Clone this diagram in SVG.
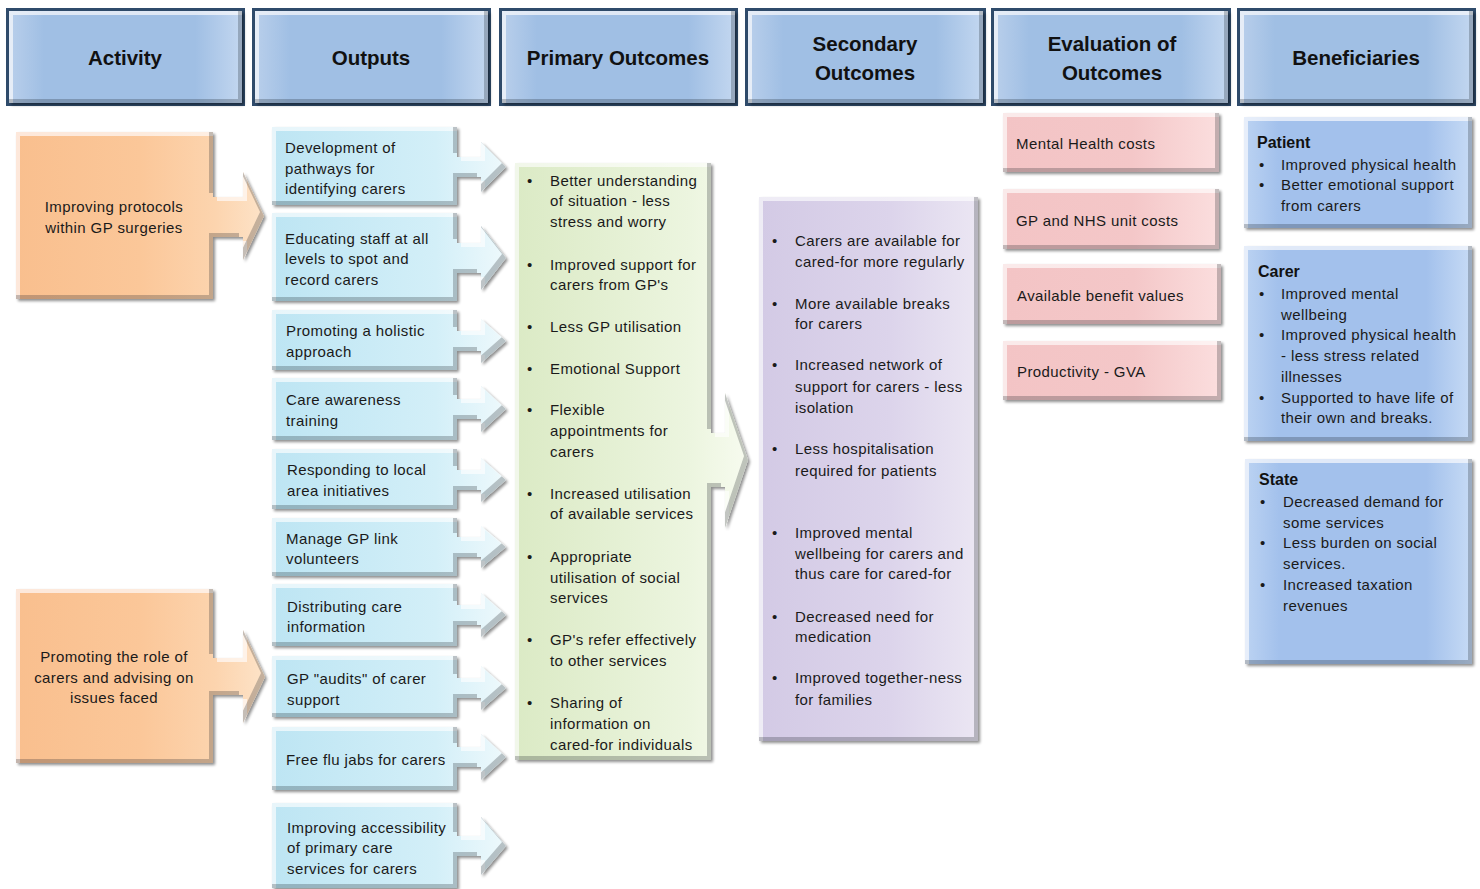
<svg xmlns="http://www.w3.org/2000/svg" width="1480" height="889" viewBox="0 0 1480 889">
<style>
.t{font-family:"Liberation Sans",Arial,sans-serif;font-size:15px;letter-spacing:0.4px;fill:#1a1a1a}
.h{font-family:"Liberation Sans",Arial,sans-serif;font-weight:bold;font-size:20.5px;fill:#111;text-anchor:middle}
.bt{font-family:"Liberation Sans",Arial,sans-serif;font-weight:bold;font-size:16px;fill:#111}
.c{text-anchor:middle}
.hb{fill:#2f4b6b}
.hf{fill:url(#gHead);filter:url(#bev)}
.act{fill:url(#gAct);filter:url(#bev)}
.out{fill:url(#gOut);filter:url(#bev)}
.pri{fill:url(#gPri);filter:url(#bev)}
.sec{fill:url(#gSec);filter:url(#bev)}
.eva{fill:url(#gEva);filter:url(#bev)}
.ben{fill:url(#gBen);filter:url(#bev)}
</style>
<defs>
<filter id="bev" x="-5%" y="-5%" width="112%" height="112%">
<feOffset in="SourceAlpha" dx="-4" dy="-4" result="o1"/>
<feComposite in="SourceAlpha" in2="o1" operator="out" result="br"/>
<feFlood flood-color="#2a3a44" flood-opacity="0.45"/>
<feComposite in2="br" operator="in" result="brc"/>
<feOffset in="SourceAlpha" dx="4" dy="4" result="o2"/>
<feComposite in="SourceAlpha" in2="o2" operator="out" result="tl"/>
<feFlood flood-color="#ffffff" flood-opacity="0.6"/>
<feComposite in2="tl" operator="in" result="tlc"/>
<feGaussianBlur in="SourceAlpha" stdDeviation="1.5"/>
<feOffset dx="2" dy="2"/>
<feComponentTransfer><feFuncA type="linear" slope="0.45"/></feComponentTransfer>
<feMerge result="sh"><feMergeNode/></feMerge>
<feMerge><feMergeNode in="sh"/><feMergeNode in="SourceGraphic"/><feMergeNode in="tlc"/><feMergeNode in="brc"/></feMerge>
</filter>
<linearGradient id="gHead" x1="0" y1="0" x2="1" y2="0">
<stop offset="0" stop-color="#b9cfeb"/><stop offset="0.15" stop-color="#a0bfe4"/><stop offset="0.8" stop-color="#a0bfe4"/><stop offset="1" stop-color="#c3d7f0"/>
</linearGradient>
<linearGradient id="gAct" x1="0" y1="0" x2="1" y2="0">
<stop offset="0" stop-color="#f9bf8e"/><stop offset="0.5" stop-color="#fbc799"/><stop offset="0.8" stop-color="#fcd4ae"/><stop offset="1" stop-color="#fde3c8"/>
</linearGradient>
<linearGradient id="gOut" x1="0" y1="0" x2="1" y2="0">
<stop offset="0" stop-color="#bde5f3"/><stop offset="0.7" stop-color="#d3eff8"/><stop offset="1" stop-color="#eef9fc"/>
</linearGradient>
<linearGradient id="gPri" x1="0" y1="0" x2="1" y2="0">
<stop offset="0" stop-color="#dbeac5"/><stop offset="0.75" stop-color="#ecf5df"/><stop offset="1" stop-color="#f7fbef"/>
</linearGradient>
<linearGradient id="gSec" x1="0" y1="0" x2="1" y2="0">
<stop offset="0" stop-color="#d3cae5"/><stop offset="0.6" stop-color="#dcd4eb"/><stop offset="1" stop-color="#ebe6f3"/>
</linearGradient>
<linearGradient id="gEva" x1="0" y1="0" x2="1" y2="0">
<stop offset="0" stop-color="#f3c4c5"/><stop offset="0.6" stop-color="#f4c7c8"/><stop offset="1" stop-color="#fbdede"/>
</linearGradient>
<linearGradient id="gBen" x1="0" y1="0" x2="1" y2="0">
<stop offset="0" stop-color="#bcd3f2"/><stop offset="0.15" stop-color="#a3c1ec"/><stop offset="0.8" stop-color="#a3c1ec"/><stop offset="1" stop-color="#c7dbf5"/>
</linearGradient>
</defs>
<rect width="1480" height="889" fill="#ffffff"/>

<g id="headers">
<g id="h-activity"><rect class="hb" x="6" y="8" width="239" height="98"/><rect class="hf" x="9" y="11" width="233" height="92"/><text class="h" x="125" y="65">Activity</text></g>
<g id="h-outputs"><rect class="hb" x="252" y="8" width="239" height="98"/><rect class="hf" x="255" y="11" width="233" height="92"/><text class="h" x="371" y="65">Outputs</text></g>
<g id="h-primary"><rect class="hb" x="499" y="8" width="239" height="98"/><rect class="hf" x="502" y="11" width="233" height="92"/><text class="h" x="618" y="65">Primary Outcomes</text></g>
<g id="h-secondary"><rect class="hb" x="745" y="8" width="241" height="98"/><rect class="hf" x="748" y="11" width="235" height="92"/><text class="h" x="865" y="51">Secondary</text><text class="h" x="865" y="80">Outcomes</text></g>
<g id="h-evaluation"><rect class="hb" x="991" y="8" width="240" height="98"/><rect class="hf" x="994" y="11" width="234" height="92"/><text class="h" x="1112" y="51">Evaluation of</text><text class="h" x="1112" y="80">Outcomes</text></g>
<g id="h-beneficiaries"><rect class="hb" x="1237" y="8" width="239" height="98"/><rect class="hf" x="1240" y="11" width="233" height="92"/><text class="h" x="1356" y="65">Beneficiaries</text></g>
</g>

<g id="connectors"></g>

<g id="activity-1"><path class="act" d="M16,132 H213 V197 H243 V172 L264,216 L243,260 V237 H213 V299 H16 Z"/>
<text class="t c" x="114" y="212">Improving protocols</text><text class="t c" x="114" y="233">within GP surgeries</text></g>
<g id="activity-2"><path class="act" d="M16,589 H213 V658 H243 V630 L265,677 L243,723 V695 H213 V763 H16 Z"/>
<text class="t c" x="114" y="662">Promoting the role of</text><text class="t c" x="114" y="683">carers and advising on</text><text class="t c" x="114" y="703">issues faced</text></g>

<g id="output-1"><path class="out" d="M272,127 H457 V157 H481 V142 L506,167 L481,192 V177 H457 V205 H272 Z"/>
<text class="t" x="285" y="153">Development  of</text><text class="t" x="285" y="174">pathways for</text><text class="t" x="285" y="194">identifying carers</text></g>
<g id="output-2"><path class="out" d="M272,213 H457 V243 H481 V226 L506,258 L481,290 V273 H457 V301 H272 Z"/>
<text class="t" x="285" y="244">Educating staff at all</text><text class="t" x="285" y="264">levels to spot and</text><text class="t" x="285" y="285">record carers</text></g>
<g id="output-3"><path class="out" d="M272,310 H457 V331 H481 V319 L506,341 L481,363 V351 H457 V370 H272 Z"/>
<text class="t" x="286" y="336">Promoting a holistic</text><text class="t" x="286" y="357">approach</text></g>
<g id="output-4"><path class="out" d="M272,378 H457 V399 H481 V386 L506,409 L481,432 V419 H457 V440 H272 Z"/>
<text class="t" x="286" y="405">Care awareness</text><text class="t" x="286" y="426">training</text></g>
<g id="output-5"><path class="out" d="M272,449 H457 V470 H481 V458 L506,480 L481,502 V490 H457 V509 H272 Z"/>
<text class="t" x="287" y="475">Responding to local</text><text class="t" x="287" y="496">area initiatives</text></g>
<g id="output-6"><path class="out" d="M272,518 H457 V537 H481 V526 L506,547 L481,568 V557 H457 V576 H272 Z"/>
<text class="t" x="286" y="544">Manage GP link</text><text class="t" x="286" y="564">volunteers</text></g>
<g id="output-7"><path class="out" d="M272,584 H457 V605 H481 V593 L506,615 L481,637 V625 H457 V646 H272 Z"/>
<text class="t" x="287" y="612">Distributing care</text><text class="t" x="287" y="632">information</text></g>
<g id="output-8"><path class="out" d="M272,656 H457 V678 H481 V666 L506,688 L481,710 V698 H457 V717 H272 Z"/>
<text class="t" x="287" y="684">GP "audits" of carer</text><text class="t" x="287" y="705">support</text></g>
<g id="output-9"><path class="out" d="M272,727 H457 V747 H481 V734 L506,757 L481,780 V767 H457 V790 H272 Z"/>
<text class="t" x="286" y="765">Free flu jabs for carers</text></g>
<g id="output-10"><path class="out" d="M272,803 H457 V836 H481 V817 L506,846 L481,875 V856 H457 V888 H272 Z"/>
<text class="t" x="287" y="833">Improving accessibility</text><text class="t" x="287" y="853">of primary care</text><text class="t" x="287" y="874">services for carers</text></g>

<g id="primary-outcomes"><path class="pri" d="M515,163 H711 V433 H725 V393 L748,460 L725,528 V487 H711 V760 H515 Z"/>
<g class="t">
<text x="527" y="186">•</text><text x="550" y="186">Better  understanding</text><text x="550" y="206">of situation - less</text><text x="550" y="227">stress and worry</text>
<text x="527" y="270">•</text><text x="550" y="270">Improved support for</text><text x="550" y="290">carers from GP's</text>
<text x="527" y="332">•</text><text x="550" y="332">Less GP utilisation</text>
<text x="527" y="374">•</text><text x="550" y="374">Emotional Support</text>
<text x="527" y="415">•</text><text x="550" y="415">Flexible</text><text x="550" y="436">appointments for</text><text x="550" y="457">carers</text>
<text x="527" y="499">•</text><text x="550" y="499">Increased utilisation</text><text x="550" y="519">of available services</text>
<text x="527" y="562">•</text><text x="550" y="562">Appropriate</text><text x="550" y="583">utilisation of social</text><text x="550" y="603">services</text>
<text x="527" y="645">•</text><text x="550" y="645">GP's refer effectively</text><text x="550" y="666">to other services</text>
<text x="527" y="708">•</text><text x="550" y="708">Sharing of</text><text x="550" y="729">information on</text><text x="550" y="750">cared-for individuals</text>
</g></g>

<g id="secondary-outcomes"><rect class="sec" x="759" y="197" width="219" height="544"/>
<g class="t">
<text x="772" y="246">•</text><text x="795" y="246">Carers are available for</text><text x="795" y="267">cared-for more regularly</text>
<text x="772" y="309">•</text><text x="795" y="309">More available breaks</text><text x="795" y="329">for carers</text>
<text x="772" y="370">•</text><text x="795" y="370">Increased network of</text><text x="795" y="392">support for carers - less</text><text x="795" y="413">isolation</text>
<text x="772" y="454">•</text><text x="795" y="454">Less hospitalisation</text><text x="795" y="476">required for patients</text>
<text x="772" y="538">•</text><text x="795" y="538">Improved mental</text><text x="795" y="559">wellbeing for carers and</text><text x="795" y="579">thus care for cared-for</text>
<text x="772" y="622">•</text><text x="795" y="622">Decreased need for</text><text x="795" y="642">medication</text>
<text x="772" y="683">•</text><text x="795" y="683">Improved together-ness</text><text x="795" y="705">for families</text>
</g></g>

<g id="eval-1"><rect class="eva" x="1003" y="113" width="216" height="59"/><text class="t" x="1016" y="149">Mental Health costs</text></g>
<g id="eval-2"><rect class="eva" x="1003" y="189" width="216" height="60"/><text class="t" x="1016" y="226">GP and NHS unit costs</text></g>
<g id="eval-3"><rect class="eva" x="1003" y="264" width="218" height="60"/><text class="t" x="1017" y="301">Available benefit values</text></g>
<g id="eval-4"><rect class="eva" x="1003" y="341" width="218" height="59"/><text class="t" x="1017" y="377">Productivity - GVA</text></g>

<g id="ben-patient"><rect class="ben" x="1244" y="117" width="228" height="111"/>
<text class="bt" x="1257" y="148">Patient</text>
<g class="t"><text x="1259" y="170">•</text><text x="1281" y="170">Improved physical health</text>
<text x="1259" y="190">•</text><text x="1281" y="190">Better  emotional support</text><text x="1281" y="211">from carers</text></g></g>
<g id="ben-carer"><rect class="ben" x="1244" y="246" width="228" height="195"/>
<text class="bt" x="1258" y="277">Carer</text>
<g class="t"><text x="1259" y="299">•</text><text x="1281" y="299">Improved mental</text><text x="1281" y="320">wellbeing</text>
<text x="1259" y="340">•</text><text x="1281" y="340">Improved physical health</text><text x="1281" y="361">- less stress related</text><text x="1281" y="382">illnesses</text>
<text x="1259" y="403">•</text><text x="1281" y="403">Supported to have life of</text><text x="1281" y="423">their own and breaks.</text></g></g>
<g id="ben-state"><rect class="ben" x="1245" y="459" width="227" height="205"/>
<text class="bt" x="1259" y="485">State</text>
<g class="t"><text x="1260" y="507">•</text><text x="1283" y="507">Decreased demand for</text><text x="1283" y="528">some services</text>
<text x="1260" y="548">•</text><text x="1283" y="548">Less burden on social</text><text x="1283" y="569">services.</text>
<text x="1260" y="590">•</text><text x="1283" y="590">Increased taxation</text><text x="1283" y="611">revenues</text></g></g>
</svg>
